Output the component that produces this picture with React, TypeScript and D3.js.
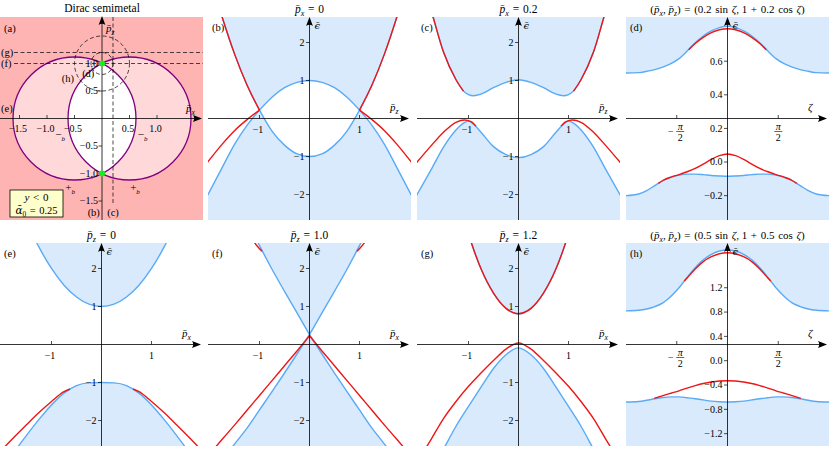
import React from 'react';
import * as d3 from 'd3';

type Pt = [number, number];
type Part = { t: string; i?: boolean; s?: boolean; f?: string };

const FONT = "'Liberation Serif','DejaVu Serif',serif";
const BLUE = '#59aaf7';
const FILL = '#d8eafc';
const RED = '#ee1515';
const PINK_DARK = '#ffb4b4';
const PINK_LIGHT = '#ffd8da';
const PURPLE = '#800080';
const GREEN = '#18ee18';

const COL_X = [0, 208, 417, 626];
const ROW_Y = [17, 243];
const PW = 203;
const PH = 203;

// ---------------- data: panel (a) ----------------
const circleCx = [-0.5, 0.5];
const circleR = 1.118;
const nodesPz = [1, -1];
const cutPz = [1.0, 1.2]; // (f), (g)
const cutPx = [0.2]; // (c)
const loopR = [0.2, 0.5]; // (d), (h)
const loopCz = 1;
const aXTicks = [-1.5, -1.0, -0.5, 0.5, 1.0];
const aXTickLabels = ['−1.5', '−1.0', '−0.5', '0.5', '1.0'];
const aYTicks = [1.0, 0.5, -0.5, -1.0, -1.5];
const aYTickLabels = ['1.0', '0.5', '−0.5', '−1.0', '−1.5'];

// ---------------- data: panel (b)  p̄x = 0 ----------------
const pB = [-2.05, -1.75, -1.5, -1.25, -1, -0.75, -0.5, -0.25, 0, 0.25, 0.5, 0.75, 1, 1.25, 1.5, 1.75, 2.05];
const bandDownB = [-2.05, -1.3, -0.68, -0.18, 0.22, 0.56, 0.81, 0.95, 1, 0.95, 0.81, 0.56, 0.22, -0.18, -0.68, -1.3, -2.05];
const bandUpB = [4.0, 2.68, 1.7, 0.88, 0.22, -0.33, -0.7, -0.93, -1, -0.93, -0.7, -0.33, 0.22, 0.88, 1.7, 2.68, 4.0];
const redBLp = [-2.05, -1.75, -1.5, -1.25, -1];
const redBLe = [-1.17, -0.68, -0.32, -0.03, 0.22];
const redBRp = [1, 1.25, 1.5, 1.75, 2.05];
const redBRe = [0.22, -0.03, -0.32, -0.68, -1.17];

// ---------------- data: panel (c)  p̄x = 0.2 ----------------
const pC = [-2.05, -1.75, -1.5, -1.25, -1.1, -1, -0.9, -0.75, -0.5, -0.25, 0, 0.25, 0.5, 0.75, 0.9, 1, 1.1, 1.25, 1.5, 1.75, 2.05];
const upC = [4.0, 2.85, 1.75, 1.02, 0.72, 0.63, 0.6, 0.64, 0.81, 0.95, 1.02, 0.95, 0.81, 0.64, 0.6, 0.63, 0.72, 1.02, 1.75, 2.85, 4.0];
const loC = [-2.05, -1.35, -0.75, -0.3, -0.12, -0.07, -0.15, -0.36, -0.74, -0.95, -1.03, -0.95, -0.74, -0.36, -0.15, -0.07, -0.12, -0.3, -0.75, -1.35, -2.05];
const redCLp = [-2.05, -1.75, -1.5, -1.25, -1.08, -0.95, -0.85];
const redCLe = [-1.18, -0.72, -0.36, -0.1, -0.04, -0.08, -0.2];
const redCRp = [0.85, 0.95, 1.08, 1.25, 1.5, 1.75, 2.05];
const redCRe = [-0.2, -0.08, -0.04, -0.1, -0.36, -0.72, -1.18];

// ---------------- data: zeta panels (d), (h) ----------------
const zeta = [-3.1416, -2.75, -2.5, -2.25, -2, -1.75, -1.5, -1.25, -1, -0.75, -0.5, -0.25, 0, 0.25, 0.5, 0.75, 1, 1.25, 1.5, 1.75, 2, 2.25, 2.5, 2.75, 3.1416];
const upD = [0.53, 0.532, 0.54, 0.55, 0.565, 0.585, 0.615, 0.66, 0.71, 0.75, 0.78, 0.8, 0.808, 0.8, 0.78, 0.75, 0.71, 0.66, 0.615, 0.585, 0.565, 0.55, 0.54, 0.532, 0.53];
const loD = [-0.2, -0.19, -0.17, -0.14, -0.11, -0.09, -0.078, -0.072, -0.072, -0.075, -0.08, -0.083, -0.085, -0.083, -0.08, -0.075, -0.072, -0.072, -0.078, -0.09, -0.11, -0.14, -0.17, -0.19, -0.2];
const redDUz = [-1.2, -1, -0.75, -0.5, -0.25, 0, 0.25, 0.5, 0.75, 1, 1.2];
const redDUe = [0.668, 0.705, 0.742, 0.77, 0.787, 0.793, 0.787, 0.77, 0.742, 0.705, 0.668];
const redDLz = [-2.14, -2, -1.75, -1.5, -1.25, -1, -0.75, -0.5, -0.25, 0, 0.25, 0.5, 0.75, 1, 1.25, 1.5, 1.75, 2, 2.14];
const redDLe = [-0.127, -0.11, -0.09, -0.075, -0.058, -0.038, -0.012, 0.016, 0.038, 0.048, 0.038, 0.016, -0.012, -0.038, -0.058, -0.075, -0.09, -0.11, -0.127];

const upH = [0.82, 0.83, 0.85, 0.89, 0.95, 1.06, 1.2, 1.37, 1.53, 1.66, 1.75, 1.805, 1.82, 1.805, 1.75, 1.66, 1.53, 1.37, 1.2, 1.06, 0.95, 0.89, 0.85, 0.83, 0.82];
const loH = [-0.68, -0.67, -0.65, -0.625, -0.605, -0.595, -0.595, -0.61, -0.625, -0.645, -0.665, -0.675, -0.68, -0.675, -0.665, -0.645, -0.625, -0.61, -0.595, -0.595, -0.605, -0.625, -0.65, -0.67, -0.68];
const redHUz = [-1.34, -1.25, -1, -0.75, -0.5, -0.25, 0, 0.25, 0.5, 0.75, 1, 1.25, 1.34];
const redHUe = [1.31, 1.36, 1.51, 1.63, 1.71, 1.76, 1.775, 1.76, 1.71, 1.63, 1.51, 1.36, 1.31];
const redHLz = [-2.27, -2, -1.75, -1.5, -1.25, -1, -0.75, -0.5, -0.25, 0, 0.25, 0.5, 0.75, 1, 1.25, 1.5, 1.75, 2, 2.27];
const redHLe = [-0.62, -0.575, -0.535, -0.495, -0.45, -0.41, -0.375, -0.35, -0.335, -0.33, -0.335, -0.35, -0.375, -0.41, -0.45, -0.495, -0.535, -0.575, -0.62];

// ---------------- data: bottom row (e), (f), (g)  vs p̄x ----------------
const pX = [-2.05, -1.75, -1.5, -1.25, -1, -0.75, -0.5, -0.25, 0, 0.25, 0.5, 0.75, 1, 1.25, 1.5, 1.75, 2.05];
const upE = [5.2, 4.05, 3.25, 2.56, 2.0, 1.56, 1.25, 1.06, 1, 1.06, 1.25, 1.56, 2.0, 2.56, 3.25, 4.05, 5.2];
const loE = [-3.5, -2.84, -2.39, -1.97, -1.59, -1.28, -1.08, -1.01, -1.0, -1.01, -1.08, -1.28, -1.59, -1.97, -2.39, -2.84, -3.5];
const redELp = [-2.05, -1.75, -1.5, -1.25, -1, -0.75, -0.63];
const redELe = [-2.85, -2.44, -2.11, -1.79, -1.5, -1.24, -1.17];
const redERp = [0.63, 0.75, 1, 1.25, 1.5, 1.75, 2.05];
const redERe = [-1.17, -1.24, -1.5, -1.79, -2.11, -2.44, -2.85];

const upF = [5.4, 4.6, 3.9, 3.25, 2.6, 1.98, 1.4, 0.83, 0.26, 0.83, 1.4, 1.98, 2.6, 3.25, 3.9, 4.6, 5.4];
const loF = [-3.55, -3.05, -2.62, -2.2, -1.72, -1.24, -0.75, -0.25, 0.26, -0.25, -0.75, -1.24, -1.72, -2.2, -2.62, -3.05, -3.55];
const redF = [-2.96, -2.5, -2.12, -1.73, -1.34, -0.95, -0.56, -0.17, 0.23, -0.17, -0.56, -0.95, -1.34, -1.73, -2.12, -2.5, -2.96];
const redFULp = [-1.15, -1.1, -1.0, -0.95];
const redFULe = [2.78, 2.68, 2.52, 2.45];
const redFURp = [0.95, 1.0, 1.1, 1.15];
const redFURe = [2.45, 2.52, 2.68, 2.78];

const upG = [8, 6.5, 5.2, 4.0, 2.9, 1.99, 1.35, 0.95, 0.81, 0.95, 1.35, 1.99, 2.9, 4.0, 5.2, 6.5, 8];
const loG = [-4, -3.35, -2.75, -2.15, -1.63, -1.12, -0.63, -0.27, -0.09, -0.27, -0.63, -1.12, -1.63, -2.15, -2.75, -3.35, -4];
const redG = [-3.15, -2.5, -1.95, -1.5, -1.1, -0.75, -0.42, -0.12, 0.04, -0.12, -0.42, -0.75, -1.1, -1.5, -1.95, -2.5, -3.15];

const eTicks = [-1, 1];
const eTickLabels = ['−1', '1'];
const epsTicks = [2, 1, -1, -2];
const epsTickLabels = ['2', '1', '−1', '−2'];
const dTicks = [0.6, 0.4, 0.2, 0.0, -0.2];
const dTickLabels = ['0.6', '0.4', '0.2', '0.0', '−0.2'];
const hTicks = [1.2, 0.8, 0.4, 0.0, -0.4, -0.8, -1.2];
const hTickLabels = ['1.2', '0.8', '0.4', '0.0', '−0.4', '−0.8', '−1.2'];
const zetaTicks = [-Math.PI / 2, Math.PI / 2];

// ---------------- helpers ----------------
const zip = (xs: number[], ys: number[]): Pt[] => xs.map((v, i) => [v, ys[i]] as Pt);
const sel = (pts: Pt[], lo: number, hi: number) => pts.filter(p => p[0] >= lo - 1e-9 && p[0] <= hi + 1e-9);
const PBAR = 'p\u0304';
const EPS = '\u03F5\u0304';
const SP = '\u2004';

function mkLine(x: any, y: any) {
  return d3.line<Pt>().x(d => x(d[0])).y(d => y(d[1])).curve(d3.curveMonotoneX);
}

function band(segs: Pt[][], x: any, y: any, edge: number) {
  const ln = mkLine(x, y);
  let d = '';
  segs.forEach((s, i) => {
    const p = ln(s) || '';
    d += i === 0 ? p : p.replace(/^M/, 'L');
  });
  const first = segs[0][0];
  const lastSeg = segs[segs.length - 1];
  const last = lastSeg[lastSeg.length - 1];
  d += `L${x(last[0])},${edge}L${x(first[0])},${edge}Z`;
  return d;
}

function MText({ parts, x, y, size, anchor = 'start' }: { parts: Part[]; x: number; y: number; size: number; anchor?: string }) {
  const sh = size * 0.3;
  let down = false;
  return (
    <text x={x} y={y} fontSize={size} textAnchor={anchor as any} fontFamily={FONT} style={{ whiteSpace: 'pre' }}>
      {parts.map((p, k) => {
        let dy: number | undefined;
        if (p.s && !down) { dy = sh; down = true; }
        else if (!p.s && down) { dy = -sh; down = false; }
        return (
          <tspan key={k} dy={dy} fontStyle={p.i ? 'italic' : 'normal'} fontFamily={p.f} fontSize={p.s ? size * 0.7 : size}>{p.t}</tspan>
        );
      })}
    </text>
  );
}

const arrowRight = (tx: number, ty: number) => `M${tx},${ty}L${tx - 9},${ty - 3.4}Q${tx - 6.5},${ty} ${tx - 9},${ty + 3.4}Z`;
const arrowUp = (tx: number, ty: number) => `M${tx},${ty}L${tx - 3.4},${ty + 9}Q${tx},${ty + 6.5} ${tx + 3.4},${ty + 9}Z`;

interface Cfg {
  key: string;
  col: number;
  row: number;
  xDom: [number, number];
  yDom: [number, number];
  topSegs: Pt[][];
  botSegs: Pt[][];
  blue: Pt[][];
  red: Pt[][];
  zetaAxis?: boolean;
  xAxisLab: Part[];
  yT: number[];
  yTL: string[];
  title: Part[];
  titleSize: number;
  label: string;
}

const TICK_FS = 10;

function EPanel({ c }: { c: Cfg }) {
  const L = COL_X[c.col];
  const T = ROW_Y[c.row];
  const x = d3.scaleLinear().domain(c.xDom).range([L, L + PW]);
  const y = d3.scaleLinear().domain(c.yDom).range([T + PH, T]);
  const ln = mkLine(x, y);
  const ax = x(0);
  const ay = T + PH / 2;
  const clipId = 'clip-' + c.key;
  const xr = L + PW - 2;
  return (
    <g>
      <defs>
        <clipPath id={clipId}><rect x={L} y={T} width={PW} height={PH} /></clipPath>
      </defs>
      <g clipPath={`url(#${clipId})`}>
        <path d={band(c.topSegs, x, y, T - 3)} fill={FILL} />
        <path d={band(c.botSegs, x, y, T + PH + 3)} fill={FILL} />
        {c.blue.map((s, i) => <path key={'b' + i} d={ln(s) || ''} fill="none" stroke={BLUE} strokeWidth={1.4} />)}
        {c.red.map((s, i) => <path key={'r' + i} d={ln(s) || ''} fill="none" stroke={RED} strokeWidth={1.4} />)}
      </g>
      {/* axes */}
      <line x1={L} x2={xr - 4} y1={ay} y2={ay} stroke="#000" strokeWidth={0.8} />
      <path d={arrowRight(xr, ay)} fill="#000" />
      <line x1={ax} x2={ax} y1={T + PH} y2={T + 4} stroke="#000" strokeWidth={0.8} />
      <path d={arrowUp(ax, T)} fill="#000" />
      {/* x ticks */}
      {c.zetaAxis
        ? zetaTicks.map((v, i) => {
            const px = x(v);
            const fx = i === 0 ? px + 3.5 : px;
            return (
              <g key={'zt' + i} fontFamily={FONT} fontSize={TICK_FS}>
                <line x1={px} x2={px} y1={ay - 3.5} y2={ay} stroke="#000" strokeWidth={0.7} />
                {i === 0 && <text x={fx - 9.5} y={ay + 16} textAnchor="middle">−</text>}
                <text x={fx} y={ay + 11} textAnchor="middle" fontStyle="italic">π</text>
                <line x1={fx - 4} x2={fx + 4} y1={ay + 13} y2={ay + 13} stroke="#000" strokeWidth={0.6} />
                <text x={fx} y={ay + 22.5} textAnchor="middle">2</text>
              </g>
            );
          })
        : eTicks.map((v, i) => (
            <g key={'xt' + i}>
              <line x1={x(v)} x2={x(v)} y1={ay - 3.5} y2={ay} stroke="#000" strokeWidth={0.7} />
              <text x={x(v) - (v < 0 ? 1.5 : 0)} y={ay + 14} textAnchor="middle" fontFamily={FONT} fontSize={TICK_FS}>{eTickLabels[i]}</text>
            </g>
          ))}
      {/* y ticks */}
      {c.yT.map((v, i) => (
        <g key={'yt' + i}>
          <line x1={ax - 3.5} x2={ax} y1={y(v)} y2={y(v)} stroke="#000" strokeWidth={0.7} />
          <text x={ax - 5} y={y(v) + 3.4} textAnchor="end" fontFamily={FONT} fontSize={TICK_FS}>{c.yTL[i]}</text>
        </g>
      ))}
      {/* axis labels */}
      <MText parts={c.xAxisLab} x={L + PW - 21} y={ay - 8} size={11} />
      <MText parts={[{ t: EPS, i: true, f: "'DejaVu Serif'" }]} x={ax + 5} y={T + 12} size={10} />
      <MText parts={c.title} x={ax} y={T - 4.5} size={c.titleSize} anchor="middle" />
      <text x={L + 4} y={T + 14} fontFamily={FONT} fontSize={10.5}>{c.label}</text>
    </g>
  );
}

function PanelA() {
  const T = ROW_Y[0];
  const x0 = 102;
  const y0 = T + PH / 2;
  const unit = 55;
  const x = d3.scaleLinear().domain([0, 1]).range([x0, x0 + unit]);
  const y = d3.scaleLinear().domain([0, 1]).range([y0, y0 - unit]);
  const r = x(circleR) - x(0);
  const xr = PW - 1;
  return (
    <g>
      <defs>
        <clipPath id="clipA"><rect x={0} y={T} width={PW} height={PH} /></clipPath>
        <clipPath id="clipLeftCircle"><circle cx={x(circleCx[0])} cy={y(0)} r={r} /></clipPath>
      </defs>
      <rect x={0} y={T} width={PW} height={PH} fill={PINK_DARK} />
      <g clipPath="url(#clipA)">
        {circleCx.map((cx, i) => <circle key={i} cx={x(cx)} cy={y(0)} r={r} fill={PINK_LIGHT} />)}
        <circle cx={x(circleCx[1])} cy={y(0)} r={r} fill="#fff" clipPath="url(#clipLeftCircle)" />
        {circleCx.map((cx, i) => <circle key={'s' + i} cx={x(cx)} cy={y(0)} r={r} fill="none" stroke={PURPLE} strokeWidth={1.3} />)}
        {cutPz.map((v, i) => (
          <line key={'hz' + i} x1={14} x2={PW} y1={y(v)} y2={y(v)} stroke="#000" strokeWidth={0.7} strokeDasharray="4,2.5" />
        ))}
        {cutPx.map((v, i) => (
          <line key={'vx' + i} x1={x(v)} x2={x(v)} y1={T} y2={T + PH - 15} stroke="#000" strokeWidth={0.7} strokeDasharray="4,2.5" />
        ))}
        {loopR.map((rr, i) => (
          <circle key={'lp' + i} cx={x(0)} cy={y(loopCz)} r={x(rr) - x(0)} fill="none" stroke="#000" strokeWidth={0.7} strokeDasharray="4,2.5" />
        ))}
      </g>
      {/* axes */}
      <line x1={0} x2={xr - 4} y1={y0} y2={y0} stroke="#000" strokeWidth={0.8} />
      <path d={arrowRight(xr, y0)} fill="#000" />
      <line x1={x0} x2={x0} y1={T + PH} y2={T + 3} stroke="#000" strokeWidth={0.8} />
      <path d={arrowUp(x0, T - 1)} fill="#000" />
      {aXTicks.map((v, i) => (
        <g key={'ax' + i}>
          <line x1={x(v)} x2={x(v)} y1={y0 - 3.5} y2={y0} stroke="#000" strokeWidth={0.7} />
          <text x={x(v) - 1.5} y={y0 + 13} textAnchor="middle" fontFamily={FONT} fontSize={TICK_FS}>{aXTickLabels[i]}</text>
        </g>
      ))}
      {aYTicks.map((v, i) => (
        <g key={'ay' + i}>
          <line x1={x0 - 3.5} x2={x0} y1={y(v)} y2={y(v)} stroke="#000" strokeWidth={0.7} />
          <text x={x0 - 4} y={y(v) + 3.4} textAnchor="end" fontFamily={FONT} fontSize={TICK_FS}>{aYTickLabels[i]}</text>
        </g>
      ))}
      {nodesPz.map((v, i) => <circle key={'n' + i} cx={x(0)} cy={y(v)} r={3} fill={GREEN} />)}
      {/* region labels */}
      <g fontFamily={FONT} fontSize={11}>
        <text x={x(-0.76)} y={y(-0.36)} textAnchor="middle">−<tspan fontSize={7} dy={2.5} fontStyle="italic">b</tspan></text>
        <text x={x(0.74)} y={y(-0.36)} textAnchor="middle">−<tspan fontSize={7} dy={2.5} fontStyle="italic">b</tspan></text>
        <text x={x(-0.58)} y={y(-1.32)} textAnchor="middle">+<tspan fontSize={7} dy={2.5} fontStyle="italic">b</tspan></text>
        <text x={x(0.6)} y={y(-1.32)} textAnchor="middle">+<tspan fontSize={7} dy={2.5} fontStyle="italic">b</tspan></text>
      </g>
      <g fontFamily={FONT} fontSize={10.5}>
        <text x={4} y={T + 14.5}>(a)</text>
        <text x={1} y={y(cutPz[1]) + 3.5}>(g)</text>
        <text x={1} y={y(cutPz[0]) + 3.5}>(f)</text>
        <text x={1} y={y0 - 7}>(e)</text>
        <text x={x(-0.62)} y={y(0.66)} textAnchor="middle">(h)</text>
        <text x={x(-0.25)} y={y(0.76)} textAnchor="middle">(d)</text>
        <text x={x(-0.15)} y={T + PH - 4} textAnchor="middle">(b)</text>
        <text x={x(0.2)} y={T + PH - 4} textAnchor="middle">(c)</text>
      </g>
      <MText parts={[{ t: PBAR, i: true }, { t: 'z', i: true, s: true }]} x={x0 + 4} y={T + 15} size={11} />
      <MText parts={[{ t: PBAR, i: true }, { t: 'x', i: true, s: true }]} x={PW - 17} y={y0 - 7} size={11} />
      <rect x={10} y={190} width={53} height={27} fill="#ffffcc" stroke="#000" strokeWidth={0.8} />
      <MText parts={[{ t: 'y', i: true }, { t: SP + '<' + SP + '0' }]} x={36.5} y={201} size={11} anchor="middle" />
      <MText parts={[{ t: 'α\u0304', i: true, f: "'DejaVu Serif'" }, { t: '0', s: true }, { t: SP + '=' + SP + '0.25' }]} x={36.5} y={213.5} size={10.5} anchor="middle" />
      <text x={x0} y={12} textAnchor="middle" fontFamily={FONT} fontSize={11.5}>Dirac semimetal</text>
    </g>
  );
}

const pxLab: Part[] = [{ t: PBAR, i: true }, { t: 'x', i: true, s: true }];
const pzLab: Part[] = [{ t: PBAR, i: true }, { t: 'z', i: true, s: true }];
const zLab: Part[] = [{ t: 'ζ', i: true }];

const eqTitle = (sub: string, val: string): Part[] => [
  { t: PBAR, i: true }, { t: sub, i: true, s: true }, { t: SP + '=' + SP + val },
];
const loopTitle = (a: string): Part[] => [
  { t: '(' }, { t: PBAR, i: true }, { t: 'x', i: true, s: true }, { t: ', ' }, { t: PBAR, i: true }, { t: 'z', i: true, s: true },
  { t: ')' + SP + '=' + SP + '(' + a + SP + 'sin' + SP }, { t: 'ζ', i: true }, { t: ', 1' + SP + '+' + SP + a + SP + 'cos' + SP }, { t: 'ζ', i: true }, { t: ')' },
];

function buildConfigs(): Cfg[] {
  const ebx: [number, number] = [-2.03, 2.03];
  const eby: [number, number] = [-2.67, 2.67];
  const zx: [number, number] = [-Math.PI, Math.PI];

  const bA = zip(pB, bandDownB);
  const bB = zip(pB, bandUpB);
  const cU = zip(pC, upC);
  const cL = zip(pC, loC);
  const dU = zip(zeta, upD);
  const dL = zip(zeta, loD);
  const hU = zip(zeta, upH);
  const hL = zip(zeta, loH);
  const eU = zip(pX, upE);
  const eL = zip(pX, loE);
  const fU = zip(pX, upF);
  const fL = zip(pX, loF);
  const fR = zip(pX, redF);
  const gU = zip(pX, upG);
  const gL = zip(pX, loG);
  const gR = zip(pX, redG);

  return [
    {
      key: 'b', col: 1, row: 0, xDom: ebx, yDom: eby,
      topSegs: [sel(bB, -3, -1), sel(bA, -1, 1), sel(bB, 1, 3)],
      botSegs: [sel(bA, -3, -1), sel(bB, -1, 1), sel(bA, 1, 3)],
      blue: [bA, bB],
      red: [sel(bB, -3, -1), sel(bB, 1, 3), zip(redBLp, redBLe), zip(redBRp, redBRe)],
      xAxisLab: pzLab, yT: epsTicks, yTL: epsTickLabels,
      title: eqTitle('x', '0'), titleSize: 11.5, label: '(b)',
    },
    {
      key: 'c', col: 2, row: 0, xDom: ebx, yDom: eby,
      topSegs: [cU], botSegs: [cL], blue: [cU, cL],
      red: [sel(cU, -3, -1.1), sel(cU, 1.1, 3), zip(redCLp, redCLe), zip(redCRp, redCRe)],
      xAxisLab: pzLab, yT: epsTicks, yTL: epsTickLabels,
      title: eqTitle('x', '0.2'), titleSize: 11.5, label: '(c)',
    },
    {
      key: 'd', col: 3, row: 0, xDom: zx, yDom: [-0.345, 0.863],
      topSegs: [dU], botSegs: [dL], blue: [dU, dL],
      red: [zip(redDUz, redDUe), zip(redDLz, redDLe)], zetaAxis: true,
      xAxisLab: zLab, yT: dTicks, yTL: dTickLabels,
      title: loopTitle('0.2'), titleSize: 11, label: '(d)',
    },
    {
      key: 'e', col: 0, row: 1, xDom: ebx, yDom: eby,
      topSegs: [eU], botSegs: [eL], blue: [eU, eL],
      red: [zip(redELp, redELe), zip(redERp, redERe)],
      xAxisLab: pxLab, yT: epsTicks, yTL: epsTickLabels,
      title: eqTitle('z', '0'), titleSize: 11.5, label: '(e)',
    },
    {
      key: 'f', col: 1, row: 1, xDom: ebx, yDom: eby,
      topSegs: [sel(fU, -3, 0), sel(fU, 0, 3)], botSegs: [sel(fL, -3, 0), sel(fL, 0, 3)],
      blue: [sel(fU, -3, 0), sel(fU, 0, 3), sel(fL, -3, 0), sel(fL, 0, 3)],
      red: [sel(fR, -3, 0), sel(fR, 0, 3), zip(redFULp, redFULe), zip(redFURp, redFURe)],
      xAxisLab: pxLab, yT: epsTicks, yTL: epsTickLabels,
      title: eqTitle('z', '1.0'), titleSize: 11.5, label: '(f)',
    },
    {
      key: 'g', col: 2, row: 1, xDom: ebx, yDom: eby,
      topSegs: [gU], botSegs: [gL], blue: [gU, gL], red: [gU, gR],
      xAxisLab: pxLab, yT: epsTicks, yTL: epsTickLabels,
      title: eqTitle('z', '1.2'), titleSize: 11.5, label: '(g)',
    },
    {
      key: 'h', col: 3, row: 1, xDom: zx, yDom: [-1.403, 1.936],
      topSegs: [hU], botSegs: [hL], blue: [hU, hL],
      red: [zip(redHUz, redHUe), zip(redHLz, redHLe)], zetaAxis: true,
      xAxisLab: zLab, yT: hTicks, yTL: hTickLabels,
      title: loopTitle('0.5'), titleSize: 11, label: '(h)',
    },
  ];
}

export default function App() {
  const cfgs = buildConfigs();
  return (
    <svg width={830} height={449} viewBox="0 0 830 449" style={{ position: 'absolute', left: 0, top: 0, background: '#fff' }}>
      <rect x={0} y={0} width={830} height={449} fill="#fff" />
      <PanelA />
      {cfgs.map(c => <EPanel key={c.key} c={c} />)}
    </svg>
  );
}
